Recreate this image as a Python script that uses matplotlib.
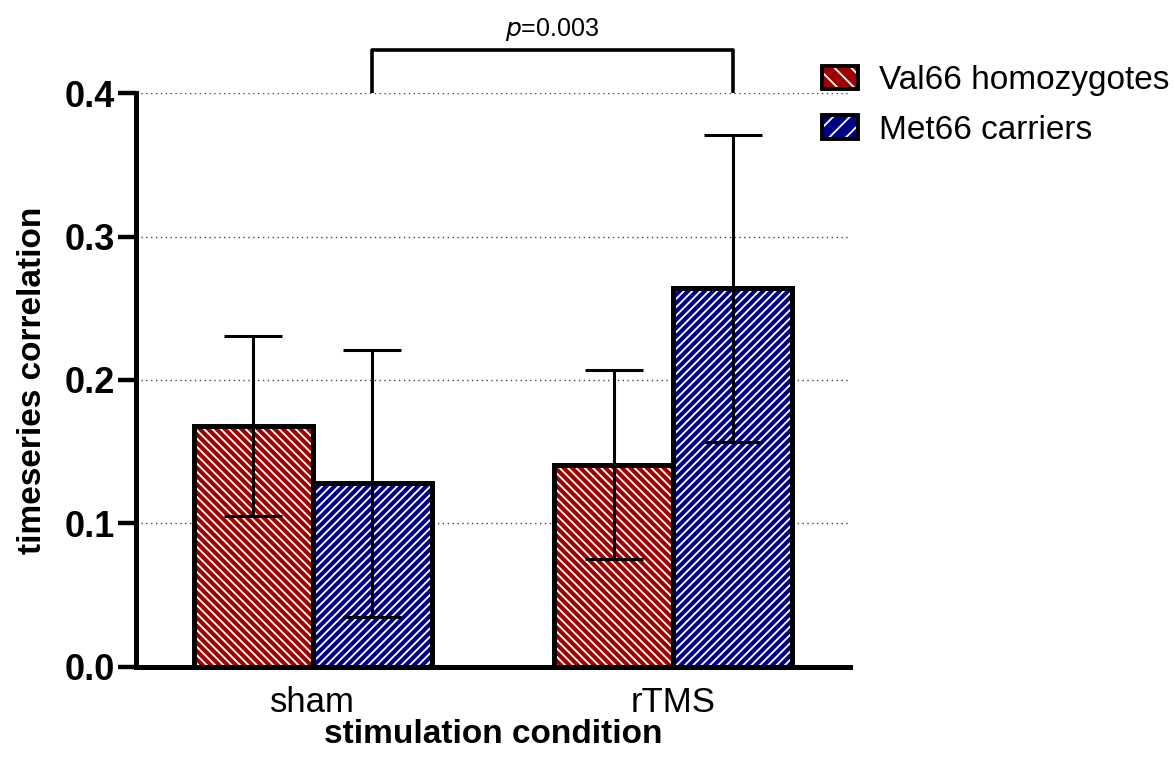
import matplotlib
matplotlib.use('Agg')
import matplotlib.pyplot as plt
from matplotlib.patches import Patch
from matplotlib.legend_handler import HandlerTuple
import numpy as np

plt.rcParams['font.family'] = ['Liberation Sans', 'DejaVu Sans']
plt.rcParams['hatch.linewidth'] = 1.3

# values
conditions = ['sham', 'rTMS']
groups = ['Val66 homozygotes', 'Met66 carriers']
val_means = [0.168, 0.141]
val_errs = [0.063, 0.066]
met_means = [0.128, 0.264]
met_errs = [0.093, 0.107]
colors = ['#A00000', '#000088']
hatches = ['\\\\\\\\', '////']
p_text = '0.003'

fig = plt.figure(figsize=(11.75, 7.6), dpi=100)
ax = fig.add_axes([0.1157, 0.1224, 0.6077, 0.7552])

x = np.arange(len(conditions))
width = 0.33
series = [(val_means, val_errs), (met_means, met_errs)]
offsets = [-width / 2, width / 2]

for (means, errs), off, col, hat in zip(series, offsets, colors, hatches):
    # hatched fill (hatch color follows edgecolor, so draw outline separately)
    ax.bar(x + off, means, width, color=col, edgecolor='white', hatch=hat,
           linewidth=0, zorder=2)
    ax.bar(x + off, means, width, fill=False, edgecolor='black',
           linewidth=3.6, zorder=3)
    ax.errorbar(x + off, means, yerr=errs, fmt='none', ecolor='black',
                elinewidth=2.2, capsize=21, capthick=2.2, zorder=4)

ax.set_xlim(-0.49, 1.49)
ax.set_ylim(0, 0.4)
ax.set_yticks([0.0, 0.1, 0.2, 0.3, 0.4])
ax.set_yticklabels(['0.0', '0.1', '0.2', '0.3', '0.4'], fontweight='bold', fontsize=26)
ax.set_xticks(x)
ax.set_xticklabels(conditions, fontsize=25)
ax.tick_params(axis='y', length=13, width=3.2, pad=2)
ax.tick_params(axis='x', length=0, pad=14)

ax.set_ylabel('timeseries correlation', fontsize=24, fontweight='bold', labelpad=12)
ax.set_xlabel('stimulation condition', fontsize=24, fontweight='bold', labelpad=0)

for s in ['top', 'right']:
    ax.spines[s].set_visible(False)
for s in ['left', 'bottom']:
    ax.spines[s].set_linewidth(3.6)

ax.yaxis.grid(True, linestyle=(0, (1, 2.5)), color='#444444', linewidth=1.0)
ax.set_axisbelow(True)

# significance bracket between the Met66 bars
bx = [x[0] + width / 2, x[1] + width / 2]
ytop = 0.430
ax.plot([bx[0], bx[0], bx[1], bx[1]], [0.4, ytop, ytop, 0.4], color='black',
        linewidth=2.6, clip_on=False, zorder=5, solid_capstyle='butt')
ax.text(np.mean(bx), ytop + 0.0098, r'$\it{p}$=' + p_text, ha='center', va='baseline',
        fontsize=18)

handles = []
for col, hat in zip(colors, ['\\\\', '//']):
    h1 = Patch(facecolor=col, edgecolor='white', hatch=hat, linewidth=0)
    h2 = Patch(fill=False, edgecolor='black', linewidth=2.8)
    handles.append((h1, h2))
fig.legend(handles, groups, loc='upper left', bbox_to_anchor=(0.6996, 0.914),
           frameon=False, fontsize=24, handlelength=1.08, handleheight=0.71,
           handletextpad=0.63, labelspacing=0.55, borderpad=0, borderaxespad=0,
           handler_map={tuple: HandlerTuple(ndivide=1, pad=0)})

fig.savefig('out.png', dpi=100)
